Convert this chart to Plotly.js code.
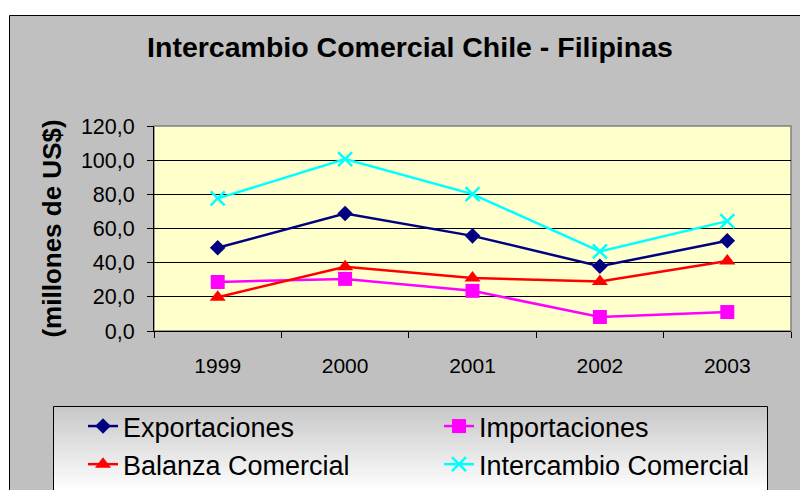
<!DOCTYPE html>
<html>
<head>
<meta charset="utf-8">
<script src="https://cdn.plot.ly/plotly-3.0.1.min.js"></script>
<style>
html,body{margin:0;padding:0;background:#ffffff;}
#chart{width:800px;height:490px;}
</style>
</head>
<body>
<div id="chart"></div>
<script>
// ---- data ----
const years = ['1999', '2000', '2001', '2002', '2003'];
const exportaciones = [48.7, 68.8, 55.7, 37.9, 52.8];
const importaciones = [28.7, 30.5, 23.5, 8.2, 11.1];
const balanzaComercial = [19.8, 37.6, 31.0, 29.0, 41.0];
const intercambioComercial = [77.6, 100.6, 80.1, 46.6, 64.3];
const seriesNames = ['Exportaciones', 'Importaciones', 'Balanza Comercial', 'Intercambio Comercial'];
const yTicks = [0, 20, 40, 60, 80, 100, 120];

const FONT = 'Liberation Sans, Arial, Helvetica, sans-serif';

// geometry helpers (pixels -> paper coords)
const W = 800, H = 490;
const M = {l: 154, r: 9, t: 126, b: 159, autoexpand: false};
const pw = W - M.l - M.r, ph = H - M.t - M.b;
const px = x => (x - M.l) / pw;
const py = y => (H - M.b - y) / ph;

const traces = [
  {name: seriesNames[0], x: years, y: exportaciones, type: 'scatter', mode: 'lines+markers',
   line: {color: '#000080', width: 2.5}, marker: {symbol: 'diamond', size: 12, color: '#000080'}},
  {name: seriesNames[1], x: years, y: importaciones, type: 'scatter', mode: 'lines+markers',
   line: {color: '#ff00ff', width: 2.5}, marker: {symbol: 'square', size: 14, color: '#ff00ff'}},
  {name: seriesNames[2], x: years, y: balanzaComercial, type: 'scatter', mode: 'lines+markers',
   line: {color: '#ff0000', width: 2.5}, marker: {symbol: 'triangle-up', size: 14, color: '#ff0000'}},
  {name: seriesNames[3], x: years, y: intercambioComercial, type: 'scatter', mode: 'lines+markers',
   line: {color: '#00ffff', width: 2.5}, marker: {symbol: 'x-thin', size: 14, color: '#00ffff', line: {color: '#00ffff', width: 2.5}}}
];

// shapes: outer chart area, plot area, legend box with vertical gradient
const shapes = [
  {type: 'rect', xref: 'paper', yref: 'paper', layer: 'below',
   x0: px(9.5), x1: px(900), y0: py(700), y1: py(15.5),
   fillcolor: '#c0c0c0', line: {color: '#000000', width: 1}},
  {type: 'rect', xref: 'paper', yref: 'paper', layer: 'below',
   x0: 0, x1: 1, y0: 0, y1: 1,
   fillcolor: '#ffffcc', line: {color: '#808080', width: 1.5}}
];
const lgTop = 406.5, lgBot = 492, lgL = 53.5, lgR = 767.5;
const nb = 24;
for (let i = 0; i < nb; i++) {
  const t = i / (nb - 1);
  const c = Math.round(0xc8 + (0xff - 0xc8) * t);
  const hex = '#' + c.toString(16).repeat(3);
  const y0 = lgTop + (lgBot - lgTop) * i / nb;
  const y1 = lgTop + (lgBot - lgTop) * (i + 1) / nb;
  shapes.push({type: 'rect', xref: 'paper', yref: 'paper', layer: 'below',
    x0: px(lgL), x1: px(lgR), y0: py(y1 + 0.5), y1: py(y0),
    fillcolor: hex, line: {width: 0}});
}
shapes.push({type: 'rect', xref: 'paper', yref: 'paper', layer: 'below',
  x0: px(lgL), x1: px(lgR), y0: py(600), y1: py(lgTop),
  fillcolor: 'rgba(0,0,0,0)', line: {color: '#000000', width: 1}});

const layout = {
  width: W, height: H,
  margin: M,
  paper_bgcolor: '#ffffff',
  plot_bgcolor: 'rgba(0,0,0,0)',
  separators: ',.',
  font: {family: FONT, color: '#000000', size: 21},
  title: {
    text: 'Intercambio Comercial Chile - Filipinas',
    font: {family: FONT, size: 28.5, weight: 'bold', color: '#000000'},
    xref: 'container', x: 410 / W, xanchor: 'center',
    yref: 'container', y: 1 - 47.5 / H, yanchor: 'middle'
  },
  xaxis: {
    type: 'category',
    range: [-0.5, 4.5],
    tickson: 'boundaries',
    ticks: 'outside', ticklen: 6, tickwidth: 1, tickcolor: '#000000',
    showline: true, linecolor: '#000000', linewidth: 1,
    showgrid: false, zeroline: false,
    tickfont: {family: FONT, size: 21, color: '#000000'},
    ticklabelstandoff: 16,
    automargin: false,
    fixedrange: true
  },
  yaxis: {
    range: [0, 120],
    tickvals: yTicks,
    tickformat: '.1f',
    ticks: 'outside', ticklen: 6, tickwidth: 1, tickcolor: '#000000',
    showline: true, linecolor: '#000000', linewidth: 1,
    showgrid: true, gridcolor: '#000000', gridwidth: 1,
    zeroline: false,
    tickfont: {family: FONT, size: 21.5, color: '#000000'},
    ticklabelstandoff: 8,
    title: {text: '(millones de US$)', standoff: 11,
            font: {family: FONT, size: 26, weight: 'bold', color: '#000000'}},
    automargin: false,
    fixedrange: true
  },
  showlegend: true,
  legend: {
    orientation: 'h',
    x: px(83), xanchor: 'left',
    y: py(402), yanchor: 'top',
    bgcolor: 'rgba(0,0,0,0)', borderwidth: 0,
    font: {family: FONT, size: 27, color: '#000000'},
    entrywidth: 311, entrywidthmode: 'pixels',
    tracegroupgap: 0
  },
  shapes: shapes
};

Plotly.newPlot('chart', traces, layout, {displayModeBar: false, staticPlot: true});
</script>
</body>
</html>
